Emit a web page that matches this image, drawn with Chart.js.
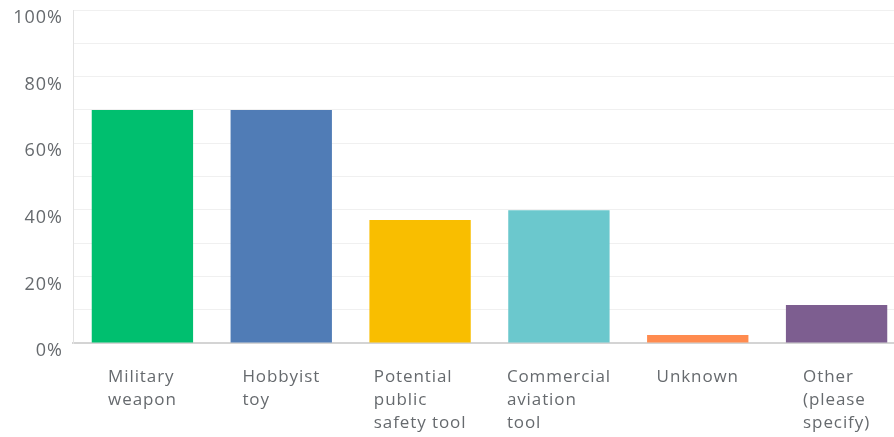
<!DOCTYPE html>
<html>
<head>
<meta charset="utf-8">
<script src="https://cdn.jsdelivr.net/npm/chart.js@4/dist/chart.umd.min.js"></script>
<style>
  html, body { margin: 0; padding: 0; background: #fff; overflow: hidden; width: 894px; height: 437px; }
  #wrap { width: 906px; height: 437px; position: relative; }
</style>
</head>
<body>
<div id="wrap"><canvas id="c" width="906" height="437"></canvas></div>
<script>
const categories = [
  ["Military", "weapon"],
  ["Hobbyist", "toy"],
  ["Potential", "public", "safety tool"],
  ["Commercial", "aviation", "tool"],
  ["Unknown"],
  ["Other", "(please", "specify)"]
];
const values = [70.0, 70.0, 36.9, 39.9, 2.4, 11.4];
const barColors = ["#00BF6F", "#507CB6", "#F9BE00", "#6BC8CD", "#FF8B4F", "#7D5E90"];
const yTickLabels = { 0: "0%", 20: "20%", 40: "40%", 60: "60%", 80: "80%", 100: "100%" };

const FONT = "'Open Sans', sans-serif";
const TEXT_COLOR = "#666a6e";

const spacingPlugin = {
  id: 'letterSpacing',
  beforeDraw(chart) { chart.ctx.letterSpacing = '1px'; }
};

const xLabelPlugin = {
  id: 'xLabelBlocks',
  afterDraw(chart) {
    const ctx = chart.ctx;
    const xs = chart.scales.x;
    ctx.save();
    ctx.font = "17px " + FONT;
    ctx.letterSpacing = '0.9px';
    ctx.fillStyle = TEXT_COLOR;
    ctx.textBaseline = 'middle';
    ctx.textAlign = 'left';
    categories.forEach((lines, i) => {
      const cx = xs.getPixelForTick(i);
      const w = Math.max(...lines.map(l => ctx.measureText(l).width));
      const left = cx - w / 2;
      lines.forEach((l, j) => {
        ctx.fillText(l, left, xs.top + 34 + j * 23);
      });
    });
    ctx.restore();
  }
};

new Chart(document.getElementById('c'), {
  type: 'bar',
  data: {
    labels: categories,
    datasets: [{
      data: values,
      backgroundColor: barColors,
      borderWidth: 0,
      barPercentage: 0.73,
      categoryPercentage: 1.0
    }]
  },
  options: {
    responsive: false,
    animation: false,
    devicePixelRatio: 1,
    layout: { padding: { top: 10, left: 0, right: 0, bottom: 0 } },
    plugins: { legend: { display: false }, tooltip: { enabled: false } },
    scales: {
      x: {
        grid: { display: false, drawTicks: false },
        border: { display: true, color: '#d4d4d4', width: 2 },
        ticks: { color: 'rgba(0,0,0,0)', font: { size: 17, family: FONT } },
        afterFit(scale) { scale.height = 94; scale.paddingLeft = 0; scale.paddingRight = 0; }
      },
      y: {
        min: 0, max: 100,
        grid: { color: '#f0f0f0', drawTicks: false, lineWidth: 1 },
        border: { display: true, color: '#e2e2e2', width: 1 },
        ticks: {
          stepSize: 10,
          autoSkip: false,
          padding: 10,
          labelOffset: 8,
          color: TEXT_COLOR,
          font: { size: 18, family: FONT },
          callback: (v) => (yTickLabels[v] !== undefined ? yTickLabels[v] : '')
        },
        afterFit(scale) { scale.width = 73; scale.paddingTop = 0; scale.paddingBottom = 0; }
      }
    }
  },
  plugins: [spacingPlugin, xLabelPlugin]
});
</script>
</body>
</html>
